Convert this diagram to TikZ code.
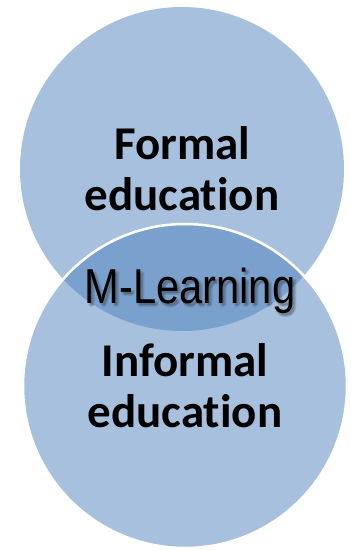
\documentclass[tikz,border=0pt]{standalone}
\usepackage{fontspec}
\usepackage{xcolor}
\usetikzlibrary{positioning}
\newfontfamily\circfont{Carlito}[Ligatures=NoCommon]
\newfontfamily\lensfont{Liberation Sans}[FakeStretch=0.85]
\definecolor{officeblue}{RGB}{79,129,189}

\begin{document}
\begin{tikzpicture}[x=1pt,y=-1pt,
    eduset/.style={circle,minimum size=324pt,inner sep=0pt,
      fill=officeblue,fill opacity=0.5,text opacity=1,align=center,
      font=\circfont\bfseries\fontsize{47}{51}\selectfont},
    lensword/.style={font=\lensfont\fontsize{49}{55}\selectfont,anchor=base}]
            \useasboundingbox (0,0) rectangle (351,550);
            \node[eduset] (formal) at (182,169) {Formal\\education};
            \node[eduset,draw=white,line width=2.5pt,draw opacity=1]
                (informal) at (185,386) {Informal\\education};
            % soft shadow under the lens text
            \foreach \dx/\dy in {1/2,3/3,2/4,4/2}
                \node[lensword,black!80,opacity=0.15] at (190+\dx,303+\dy) {M-Learning};
            \node[lensword] (mlearn) at (190,303) {M-Learning};
        \end{tikzpicture}
\end{document}
